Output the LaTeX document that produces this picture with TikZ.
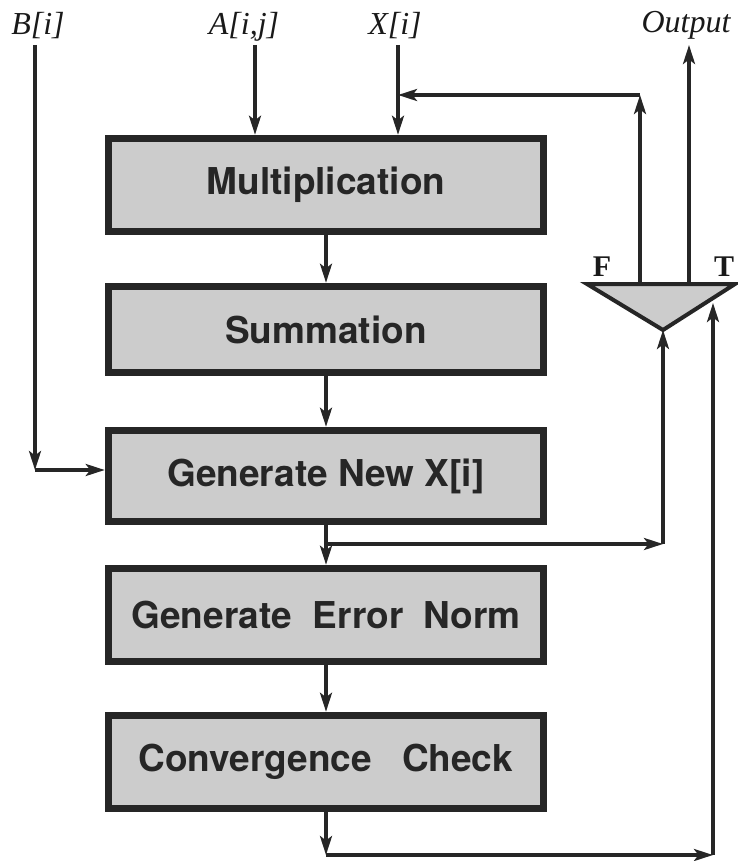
\documentclass[tikz,border=0pt]{standalone}
\usepackage{fontspec}
\setmainfont{Liberation Serif}
\newfontfamily\boxfont{TeX Gyre Heros}
\usetikzlibrary{arrows.meta,calc}
\begin{document}
\begin{tikzpicture}[x=1pt,y=-1pt,
  procbox/.style={draw=black!85, line width=7.5pt, fill=black!20, text=black!85,
    minimum width=435pt, inner sep=0pt,
    font=\boxfont\bfseries\fontsize{37}{44}\selectfont},
  arr/.style={line width=3.4pt, draw=black!85, -{Stealth[length=19pt,width=12pt,inset=4.5pt]}},
  lab/.style={font=\itshape\fontsize{32}{38}\selectfont, inner sep=0pt, text=black!90},
  tf/.style={font=\bfseries\fontsize{30}{36}\selectfont, inner sep=0pt, text=black!90}]
\useasboundingbox (0,0) rectangle (738,861);

% process boxes
\node[procbox, minimum height=93pt] (mult) at (326,185) {Multiplication};
\node[procbox, minimum height=86pt] (summ) at (326,329.5) {Summation};
\node[procbox, minimum height=91pt] (gnew) at (326,476) {Generate New X[i]};
\node[procbox, minimum height=93pt] (err)  at (326,615) {Generate\hspace{21pt}Error\hspace{20pt}Norm};
\node[procbox, minimum height=93pt] (conv) at (326,762) {Convergence\hspace{30pt}Check};

% top labels
\node[lab, anchor=base] (lb) at (38,35) {B[i]};
\node[lab, anchor=base] (la) at (244,35) {A[i,j]};
\node[lab, anchor=base] (lx) at (395,35) {X[i]};
\node[lab, anchor=base] (lo) at (686,33) {Output};

% multiplexer triangle
\coordinate (mL) at (587,284);
\coordinate (mR) at (735,284);
\coordinate (mA) at (663,330);
\draw[line width=4pt, draw=black!85, fill=black!20, line join=miter] (mL) -- (mR) -- (mA) -- cycle;
\node[tf] (lf) at (602,267) {F};
\node[tf] (lt) at (724,267) {T};

% inputs
\coordinate (bt) at (35,45);
\coordinate (bc) at (35,470);
\draw[arr] (bt) -- (bc);
\draw[arr] (bc) -- (bc -| gnew.west);
\coordinate (at) at (255,45);
\draw[arr] (at) -- (at |- mult.north);
\coordinate (xt) at (398,45);
\draw[arr] (xt) -- (xt |- mult.north);

% chain
\draw[arr] (mult.south) -- (summ.north);
\draw[arr] (summ.south) -- (gnew.north);
\draw[arr] (gnew.south) -- (err.north);
\draw[arr] (err.south) -- (conv.north);

% branch from Generate New X[i] to mux select
\coordinate (g1) at (gnew.south |- 0,544);
\coordinate (g2) at (mA |- 0,544);
\draw[arr] (g1) -- (g2);
\draw[arr] (g2) -- (mA);

% convergence to mux T input
\coordinate (c1) at (conv.south |- 0,855);
\coordinate (c2) at (713,855);
\coordinate (c3) at (713,303);
\draw[arr] (conv.south) -- (c1);
\draw[arr] (c1) -- (c2);
\draw[arr] (c2) -- (c3);

% F output feedback
\coordinate (fb) at (640,284);
\coordinate (ft) at (640,95);
\draw[arr] (fb) -- (ft);
\draw[arr] (ft) -- (ft -| xt);

% T output
\coordinate (ob) at (689,284);
\coordinate (ot) at (689,45);
\draw[arr] (ob) -- (ot);
\end{tikzpicture}
\end{document}
